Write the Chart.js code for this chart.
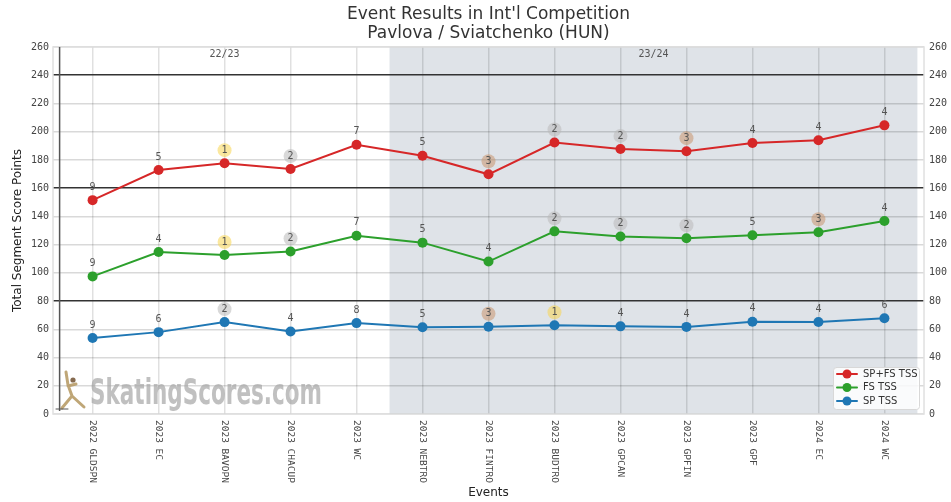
<!DOCTYPE html>
<html lang="en">
<head>
<meta charset="UTF-8">
<title>Event Results in Int'l Competition</title>
<script src="https://cdn.jsdelivr.net/npm/chart.js"></script>
<style>
    body { margin: 0; background: #fff; }
    #wrap { width: 951px; height: 502px; }
</style>
</head>
<body>
<div id="wrap"><canvas id="chart" width="951" height="502"></canvas></div>
<script>
const events = ['2022 GLDSPN', '2023 EC', '2023 BAVOPN', '2023 CHACUP', '2023 WC', '2023 NEBTRO',
    '2023 FINTRO', '2023 BUDTRO', '2023 GPCAN', '2023 GPFIN', '2023 GPF', '2024 EC', '2024 WC'];
const totalScores = [151.5, 172.8, 177.7, 173.6, 190.7, 182.9, 169.8, 192.3, 187.8, 186.2, 192.0, 194.0, 204.5];
const fsScores = [97.5, 114.8, 112.6, 115.1, 126.3, 121.4, 108.0, 129.4, 125.7, 124.5, 126.6, 128.8, 136.7];
const spScores = [53.8, 58.0, 65.1, 58.5, 64.4, 61.5, 61.8, 62.9, 62.1, 61.7, 65.4, 65.2, 67.8];
const totalRanks = [9, 5, 1, 2, 7, 5, 3, 2, 2, 3, 4, 4, 4];
const fsRanks = [9, 4, 1, 2, 7, 5, 4, 2, 2, 2, 5, 3, 4];
const spRanks = [9, 6, 2, 4, 8, 5, 3, 1, 4, 4, 4, 4, 6];
const seasons = ['22/23', '23/24'];
const seasonStarts = [-0.5, 4.5];
const seasonEnd = 12.5;

const mono = '"DejaVu Sans Mono", monospace';
const sans = '"DejaVu Sans", sans-serif';

const medalColors = {
    1: 'rgba(247, 214, 80, 0.55)',
    2: 'rgba(185, 185, 185, 0.55)',
    3: 'rgba(200, 150, 110, 0.55)'
};

function points(values) {
    return values.map((v, i) => ({ x: i, y: v }));
}

// shading, season lines, labels, legend etc.
const decorations = {
    id: 'decorations',
    beforeDraw(chart) {
        const { ctx, chartArea: a, scales: { x } } = chart;
        ctx.save();
        ctx.fillStyle = '#dfe3e8';
        const x0 = x.getPixelForValue(seasonStarts[1]);
        const x1 = x.getPixelForValue(seasonEnd);
        ctx.fillRect(x0, a.top, x1 - x0, a.bottom - a.top);
        ctx.restore();
    },
    afterDatasetsDraw(chart) {
        const { ctx, chartArea: a, scales: { x, y } } = chart;
        ctx.save();

        // frame
        ctx.strokeStyle = '#e0e0e0';
        ctx.lineWidth = 1.5;
        ctx.strokeRect(a.left, a.top, a.right - a.left, a.bottom - a.top);

        // season start line
        const sx = x.getPixelForValue(seasonStarts[0]);
        ctx.strokeStyle = '#555';
        ctx.lineWidth = 1.5;
        ctx.beginPath();
        ctx.moveTo(sx, a.top);
        ctx.lineTo(sx, a.bottom - 3);
        ctx.stroke();

        // season labels
        ctx.fillStyle = '#555';
        ctx.font = '10px ' + mono;
        ctx.textAlign = 'center';
        ctx.textBaseline = 'middle';
        ctx.fillText(seasons[0], x.getPixelForValue(2), a.top + 7);
        ctx.fillText(seasons[1], x.getPixelForValue(8.5), a.top + 7);

        // rank labels
        const groups = [[totalScores, totalRanks], [fsScores, fsRanks], [spScores, spRanks]];
        groups.forEach(([vals, ranks]) => {
            vals.forEach((v, i) => {
                const px = x.getPixelForValue(i);
                const py = y.getPixelForValue(v) - 13;
                const r = ranks[i];
                if (medalColors[r]) {
                    ctx.fillStyle = medalColors[r];
                    ctx.beginPath();
                    ctx.arc(px, py, 7, 0, Math.PI * 2);
                    ctx.fill();
                }
                ctx.fillStyle = '#555';
                ctx.fillText(String(r), px, py);
            });
        });

        // watermark
        ctx.save();
        ctx.font = 'bold 35px ' + sans;
        const w = ctx.measureText('SkatingScores.com').width;
        ctx.translate(90, 404);
        ctx.scale(232 / w, 1);
        ctx.fillStyle = 'rgba(165, 165, 165, 0.7)';
        ctx.textAlign = 'left';
        ctx.textBaseline = 'alphabetic';
        ctx.fillText('SkatingScores.com', 0, 0);
        ctx.restore();

        // little skater figure
        ctx.strokeStyle = 'rgba(180, 150, 95, 0.85)';
        ctx.lineCap = 'round';
        ctx.lineWidth = 3;
        ctx.beginPath();
        ctx.moveTo(66, 372); ctx.lineTo(68, 385);
        ctx.lineTo(72, 396); ctx.lineTo(62, 408);
        ctx.moveTo(72, 396); ctx.lineTo(84, 407);
        ctx.moveTo(68, 386); ctx.lineTo(76, 384);
        ctx.stroke();
        ctx.fillStyle = 'rgba(120, 90, 60, 0.9)';
        ctx.beginPath();
        ctx.arc(73, 380, 2.6, 0, Math.PI * 2);
        ctx.fill();
        ctx.strokeStyle = '#555';
        ctx.lineWidth = 1;
        ctx.beginPath();
        ctx.moveTo(56, 409); ctx.lineTo(68, 409);
        ctx.stroke();

        // legend
        const lx = 833, ly = 367, lw = 86, lh = 42;
        ctx.fillStyle = 'rgba(255, 255, 255, 0.85)';
        ctx.strokeStyle = '#d8d8d8';
        ctx.lineWidth = 1;
        ctx.beginPath();
        ctx.roundRect(lx + 0.5, ly + 0.5, lw, lh, 3);
        ctx.fill();
        ctx.stroke();
        ctx.font = '10px ' + sans;
        ctx.textAlign = 'left';
        ctx.textBaseline = 'middle';
        chart.data.datasets.forEach((ds, k) => {
            const yy = ly + 7 + k * 13.5;
            ctx.strokeStyle = ds.borderColor;
            ctx.lineWidth = 2;
            ctx.beginPath();
            ctx.moveTo(lx + 4, yy);
            ctx.lineTo(lx + 24, yy);
            ctx.stroke();
            ctx.fillStyle = ds.borderColor;
            ctx.beginPath();
            ctx.arc(lx + 14, yy, 4.5, 0, Math.PI * 2);
            ctx.fill();
            ctx.fillStyle = '#333';
            ctx.fillText(ds.label, lx + 30, yy);
        });

        ctx.restore();
    },
    afterDraw(chart) {
        const { ctx, chartArea: a, scales: { x } } = chart;
        ctx.save();
        // titles
        ctx.fillStyle = '#333';
        ctx.font = '17px ' + sans;
        ctx.textAlign = 'center';
        ctx.textBaseline = 'middle';
        const cx = (a.left + a.right) / 2;
        ctx.fillText("Event Results in Int'l Competition", cx, 15);
        ctx.fillText('Pavlova / Sviatchenko (HUN)', cx, 34);

        ctx.fillStyle = '#222';
        ctx.font = '12px ' + sans;
        ctx.fillText('Events', cx, 493);
        ctx.save();
        ctx.translate(18, (a.top + a.bottom) / 2);
        ctx.rotate(-Math.PI / 2);
        ctx.fillText('Total Segment Score Points', 0, 0);
        ctx.restore();

        // event labels, rotated clockwise
        ctx.fillStyle = '#444';
        ctx.font = '9.5px ' + mono;
        ctx.textAlign = 'left';
        events.forEach((e, i) => {
            ctx.save();
            ctx.translate(x.getPixelForValue(i), a.bottom + 6);
            ctx.rotate(Math.PI / 2);
            ctx.fillText(e, 0, 0);
            ctx.restore();
        });
        ctx.restore();
    }
};

function yGridColor(c) {
    const v = c.tick.value;
    if (v % 80 === 0 && v > 0 && v < 260) return '#333';
    if (v % 20 === 0) return 'rgba(0, 0, 0, 0.15)';
    return 'rgba(0, 0, 0, 0.07)';
}

function yGridWidth(c) {
    const v = c.tick.value;
    if (v % 80 === 0 && v > 0 && v < 260) return 1.5;
    if (v % 20 === 0) return 1.5;
    return 1;
}

new Chart(document.getElementById('chart'), {
    type: 'line',
    data: {
        datasets: [
            { label: 'SP+FS TSS', data: points(totalScores), borderColor: '#d62728', backgroundColor: '#d62728' },
            { label: 'FS TSS', data: points(fsScores), borderColor: '#2ca02c', backgroundColor: '#2ca02c' },
            { label: 'SP TSS', data: points(spScores), borderColor: '#1f77b4', backgroundColor: '#1f77b4' }
        ]
    },
    options: {
        responsive: false,
        animation: false,
        devicePixelRatio: 1,
        layout: { padding: { top: 47, left: 0, right: 0, bottom: 0 } },
        elements: {
            line: { borderWidth: 2, tension: 0 },
            point: { radius: 5, borderWidth: 0, hoverRadius: 5 }
        },
        plugins: {
            legend: { display: false },
            title: { display: false },
            tooltip: { enabled: false }
        },
        scales: {
            x: {
                type: 'linear',
                min: -0.6,
                max: 12.6,
                afterBuildTicks: s => { s.ticks = events.map((_, i) => ({ value: i })); },
                afterFit: s => { s.height = 88; },
                ticks: { display: false },
                grid: { color: 'rgba(0, 0, 0, 0.12)', lineWidth: 1.5, drawTicks: false },
                border: { display: false }
            },
            y: {
                position: 'left',
                min: 0,
                max: 260,
                afterFit: s => { s.width = 53; },
                ticks: {
                    stepSize: 10,
                    padding: 4,
                    color: '#444',
                    font: { family: mono, size: 10 },
                    callback: v => (v % 20 === 0 ? v : '')
                },
                grid: { color: yGridColor, lineWidth: yGridWidth, drawTicks: false },
                border: { display: false }
            },
            y2: {
                position: 'right',
                min: 0,
                max: 260,
                afterFit: s => { s.width = 27; },
                ticks: {
                    stepSize: 20,
                    padding: 5,
                    color: '#444',
                    font: { family: mono, size: 10 }
                },
                grid: { display: false, drawTicks: false },
                border: { display: false }
            }
        }
    },
    plugins: [decorations]
});
</script>
</body>
</html>
